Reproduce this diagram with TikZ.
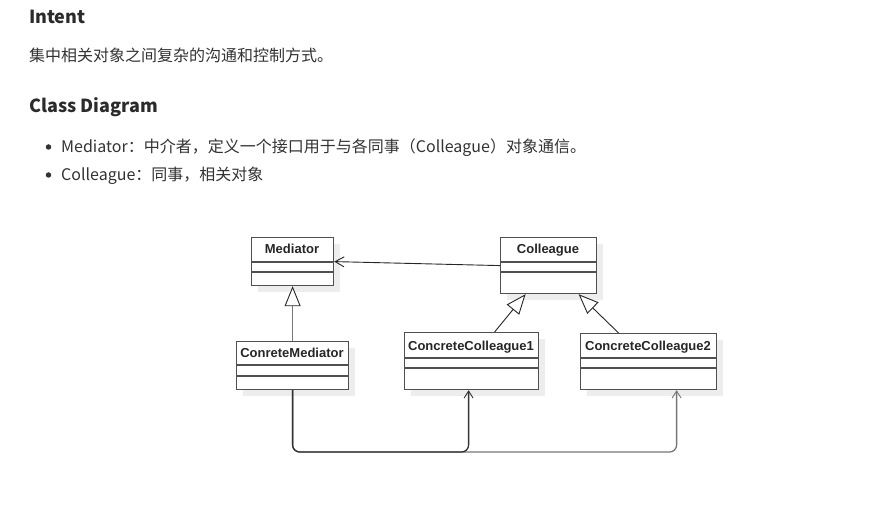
\documentclass[tikz,border=0pt]{standalone}
\usepackage{fontspec}
\setmainfont{Liberation Sans}
\newfontfamily\cjk{Noto Sans CJK SC}
\usetikzlibrary{arrows.meta,shadows}
\definecolor{txt}{HTML}{333333}
\definecolor{headc}{HTML}{2B2B2B}
\definecolor{boxline}{HTML}{505050}
\definecolor{shadowc}{HTML}{EDEDED}
\definecolor{linegray}{HTML}{777777}
\begin{document}
\begin{tikzpicture}[x=1pt,y=-1pt,
  heading/.style={anchor=base west, inner sep=0, font=\cjk\bfseries\fontsize{18}{21}\selectfont, text=headc},
  body/.style={anchor=base west, inner sep=0, font=\cjk\fontsize{16}{19}\selectfont, text=txt},
  bulletdot/.style={circle, fill=txt, inner sep=0, minimum size=5.5pt},
  cls/.style={draw=boxline, line width=1.2pt, fill=white, anchor=north west, inner sep=0,
    drop shadow={shadow xshift=6pt, shadow yshift=-6pt, fill=shadowc, opacity=1}},
  ctitle/.style={anchor=base, inner sep=0, font=\bfseries\fontsize{13}{15}\selectfont, text=black!85},
  sep/.style={draw=boxline, line width=1.2pt},
  dep/.style={draw=black!85, line width=0.9pt, -{Straight Barb[length=9pt,width=10pt]}},
  inh/.style={draw=black!85, line width=0.9pt, -{Triangle[open, length=20pt, width=16pt, fill=white]}},
  inhg/.style={draw=linegray, line width=1.4pt, -{Triangle[open, length=20pt, width=16pt, fill=white, line width=0.9pt, color=black!85]}},
  assocdark/.style={draw=black!80, line width=1.3pt, rounded corners=7pt, -{Straight Barb[length=7pt,width=9pt,line width=0.9pt]}},
  assocgray/.style={draw=linegray, line width=1.3pt, rounded corners=7pt, -{Straight Barb[length=7pt,width=9pt,line width=0.9pt]}},
]
\fill[white] (0,0) rectangle (883,518);
\useasboundingbox (0,0) rectangle (883,518);

% text
\node[heading] (h1) at (29,24) {Intent};
\node[body] (p1) at (29,62) {集中相关对象之间复杂的沟通和控制方式。};
\node[heading] (h2) at (29,113) {Class Diagram};
\node[bulletdot] (d1) at (48.5,147) {};
\node[body] (l1) at (61,153) {Mediator：中介者，定义一个接口用于与各同事（Colleague）对象通信。};
\node[bulletdot] (d2) at (48.5,175) {};
\node[body] (l2) at (61,181) {Colleague：同事，相关对象};

% classes
\node[cls, minimum width=82, minimum height=48] (med) at (251,237) {};
\node[ctitle] (medT) at (292,253.5) {Mediator};
\draw[sep] (med.west |- 0,262) -- (med.east |- 0,262);
\draw[sep] (med.west |- 0,272) -- (med.east |- 0,272);

\node[cls, minimum width=96, minimum height=56] (coll) at (500,237) {};
\node[ctitle] (collT) at (548,253.5) {Colleague};
\draw[sep] (coll.west |- 0,262) -- (coll.east |- 0,262);
\draw[sep] (coll.west |- 0,272) -- (coll.east |- 0,272);

\node[cls, minimum width=112, minimum height=48] (cm) at (236,341) {};
\node[ctitle] (cmT) at (292,358) {ConreteMediator};
\draw[sep] (cm.west |- 0,365) -- (cm.east |- 0,365);
\draw[sep] (cm.west |- 0,376) -- (cm.east |- 0,376);

\node[cls, minimum width=134, minimum height=57] (cc1) at (404,332) {};
\node[ctitle] (cc1T) at (471,350) {ConcreteColleague1};
\draw[sep] (cc1.west |- 0,358) -- (cc1.east |- 0,358);
\draw[sep] (cc1.west |- 0,368) -- (cc1.east |- 0,368);

\node[cls, minimum width=136, minimum height=56] (cc2) at (580,333) {};
\node[ctitle] (cc2T) at (648,350) {ConcreteColleague2};
\draw[sep] (cc2.west |- 0,358) -- (cc2.east |- 0,358);
\draw[sep] (cc2.west |- 0,368) -- (cc2.east |- 0,368);

% connectors
\draw[dep] (coll.west) -- (med.east);
\draw[inhg] (cm.north) -- (med.south);
\draw[inh] ([xshift=23pt]cc1.north) -- ([xshift=-23pt]coll.south);
\draw[inh] ([xshift=-30pt]cc2.north) -- ([xshift=30pt]coll.south);

\draw[assocgray] (cm.south) -- (cm.south |- 0,452) -- ([xshift=28pt]cc2.south |- 0,452) -- ([xshift=28pt]cc2.south);
\draw[assocdark] (cm.south) -- (cm.south |- 0,452) -- ([xshift=-3pt]cc1.south |- 0,452) -- ([xshift=-3pt]cc1.south);
\end{tikzpicture}
\end{document}
